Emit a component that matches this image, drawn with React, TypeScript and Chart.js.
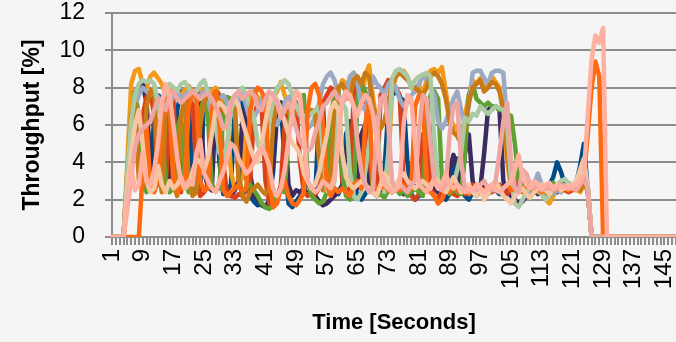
import { useEffect, useRef } from "react";
import { Chart, registerables } from "chart.js";

Chart.register(...registerables);

// Categories: time in seconds, 1..148
const TIME: string[] = Array.from({ length: 148 }, (_, i) => String(i + 1));
const TICK_LABELS = ["1", "9", "17", "25", "33", "41", "49", "57", "65", "73", "81", "89", "97", "105", "113", "121", "129", "137", "145"];
const Y_MIN = 0;
const Y_MAX = 12;
const Y_STEP = 2;

const darkBlue = [
  0, 0, 0, 0, 3.2, 5.5, 7.2, 6.0, 3.0, 2.6,
  2.8, 6.5, 7.6, 7.4, 3.0, 2.5, 2.7, 6.8, 7.8, 7.6,
  7.2, 3.0, 2.4, 2.6, 7.5, 7.8, 7.4, 7.6, 4.0, 2.3,
  2.5, 2.8, 6.8, 7.7, 7.4, 3.2, 2.2, 1.9, 1.7, 1.8,
  1.6, 2.0, 3.5, 6.5, 7.2, 4.0, 1.8, 1.6, 1.9, 2.2,
  2.6, 3.0, 2.5, 2.3, 6.8, 7.0, 3.0, 2.4, 2.6, 2.3,
  2.8, 5.5, 6.2, 3.0, 2.2, 2.0, 2.3, 2.6, 2.4, 2.2,
  2.5, 3.5, 6.8, 7.6, 7.8, 7.5, 7.3, 4.0, 2.3, 2.0,
  2.2, 2.3, 3.5, 6.0, 4.2, 2.4, 2.1, 2.0, 2.3, 3.8,
  4.2, 2.6, 2.2, 2.0, 2.4, 2.2, 2.5, 2.8, 2.3, 2.6,
  2.5, 2.3, 2.8, 2.6, 2.4, 2.2, 2.5, 2.7, 2.6, 2.4,
  2.5, 2.7, 2.6, 2.5, 2.8, 3.2, 4.0, 3.5, 2.8, 2.7,
  2.6, 2.9, 3.8, 5.0, 2.5, 0, 0, 0, 0, 0,
  0, 0, 0, 0, 0, 0, 0, 0, 0, 0,
  0, 0, 0, 0, 0, 0, 0, 0,
];

const orange = [
  0, 0, 0, 0, 4.0, 8.2, 8.9, 9.0, 8.2, 8.0,
  8.6, 8.8, 8.5, 8.2, 7.6, 7.5, 8.0, 7.7, 7.6, 7.9,
  8.1, 7.8, 7.6, 8.0, 7.7, 7.5, 7.8, 8.0, 7.6, 7.2,
  6.5, 3.5, 2.6, 2.8, 3.2, 6.2, 7.6, 7.8, 7.5, 7.2,
  7.0, 6.8, 7.4, 7.8, 8.3, 7.6, 7.0, 6.8, 6.7, 6.7,
  6.7, 6.7, 6.7, 6.8, 6.7, 3.5, 2.4, 2.6, 5.5, 7.8,
  8.4, 8.2, 7.6, 8.8, 8.5, 7.2, 8.6, 9.2, 7.5, 6.0,
  3.0, 2.5, 4.0, 7.8, 8.6, 8.8, 8.9, 8.6, 8.0, 7.8,
  8.2, 7.6, 8.4, 8.9, 9.0, 8.8, 9.1, 7.8, 6.4, 6.0,
  5.8, 5.2, 6.5, 7.6, 8.4, 8.2, 8.5, 7.9, 8.2, 8.6,
  8.3, 8.0, 6.5, 4.0, 2.6, 2.4, 2.5, 2.8, 2.6, 2.5,
  2.4, 2.6, 2.3, 2.0, 1.8, 2.2, 2.5, 2.4, 2.6, 2.7,
  2.5, 2.6, 2.4, 2.8, 2.5, 0, 0, 0, 0, 0,
  0, 0, 0, 0, 0, 0, 0, 0, 0, 0,
  0, 0, 0, 0, 0, 0, 0, 0,
];

const purple = [
  0, 0, 0, 0, 2.5, 5.0, 6.8, 8.0, 8.2, 7.2,
  4.0, 2.8, 3.2, 6.5, 7.4, 3.0, 2.6, 2.5, 2.9, 3.2,
  6.8, 7.6, 7.8, 7.4, 3.5, 2.7, 2.5, 6.8, 7.5, 3.2,
  2.4, 2.2, 2.5, 3.0, 6.4, 7.0, 3.4, 2.2, 2.0, 1.7,
  1.6, 1.9, 4.0, 6.8, 7.2, 6.5, 2.8, 2.2, 2.5, 2.4,
  2.6, 2.3, 2.4, 2.2, 1.9, 1.7, 1.8, 2.0, 2.2, 2.5,
  2.7, 4.8, 5.2, 3.0, 2.6, 5.5, 6.0, 3.0, 2.4, 2.3,
  2.5, 2.8, 2.6, 2.4, 2.6, 2.8, 2.3, 2.5, 2.8, 2.7,
  2.6, 3.0, 5.0, 4.6, 2.6, 2.4, 2.5, 2.3, 3.6, 4.4,
  3.8, 2.6, 4.5, 5.5, 3.0, 2.4, 2.6, 4.5, 6.8, 7.0,
  7.0, 6.8, 3.0, 2.5, 2.2, 2.0, 1.8, 1.9, 2.2, 2.4,
  2.5, 2.3, 2.6, 2.4, 2.5, 2.6, 2.4, 2.5, 2.7, 2.6,
  2.6, 2.8, 2.7, 3.0, 2.6, 0, 0, 0, 0, 0,
  0, 0, 0, 0, 0, 0, 0, 0, 0, 0,
  0, 0, 0, 0, 0, 0, 0, 0,
];

const red = [
  0, 0, 0, 0, 2.5, 4.5, 6.0, 5.2, 6.5, 7.5,
  7.8, 6.5, 3.0, 2.6, 2.8, 6.2, 7.4, 2.8, 2.4, 5.5,
  7.2, 7.6, 3.2, 2.2, 2.4, 2.8, 7.0, 7.8, 7.6, 4.0,
  2.3, 2.2, 2.1, 2.3, 2.2, 2.5, 3.0, 6.5, 7.2, 7.0,
  3.0, 1.8, 1.6, 2.0, 2.8, 6.0, 7.4, 7.6, 7.2, 4.0,
  2.4, 2.2, 2.5, 2.3, 2.6, 7.2, 7.6, 8.0, 7.8, 7.4,
  3.0, 2.4, 2.6, 7.6, 8.2, 8.0, 7.8, 4.5, 2.5, 2.2,
  7.6, 8.0, 8.4, 8.2, 8.0, 7.6, 3.0, 2.4, 2.2, 2.0,
  2.3, 5.5, 5.0, 2.6, 2.2, 2.0, 2.5, 2.8, 2.4, 2.3,
  2.2, 2.5, 2.3, 2.6, 2.8, 2.4, 2.6, 2.5, 2.7, 2.4,
  2.6, 2.8, 2.5, 2.3, 2.6, 2.5, 3.5, 2.8, 2.4, 2.5,
  2.6, 2.5, 2.4, 2.6, 2.5, 2.7, 2.6, 2.8, 2.5, 2.4,
  2.5, 2.7, 2.6, 2.9, 2.5, 0, 0, 0, 0, 0,
  0, 0, 0, 0, 0, 0, 0, 0, 0, 0,
  0, 0, 0, 0, 0, 0, 0, 0,
];

const green = [
  0, 0, 0, 0, 3.0, 6.0, 7.8, 6.5, 2.8, 2.4,
  2.6, 2.5, 5.5, 6.2, 2.8, 2.4, 2.6, 5.8, 6.5, 3.0,
  2.4, 2.6, 3.0, 6.8, 7.4, 6.5, 2.8, 2.5, 2.6, 6.8,
  7.5, 7.4, 7.0, 3.2, 2.4, 2.6, 2.8, 2.5, 2.2, 1.8,
  1.6, 1.5, 1.7, 2.2, 2.5, 2.4, 5.5, 7.4, 7.8, 7.5,
  7.6, 3.0, 2.2, 2.0, 1.8, 1.9, 2.4, 6.5, 7.6, 7.8,
  3.5, 2.2, 2.0, 2.4, 7.5, 8.2, 7.8, 7.0, 2.5, 2.2,
  2.3, 2.1, 2.5, 2.4, 2.6, 2.3, 2.5, 2.2, 2.4, 2.6,
  2.4, 2.2, 6.0, 7.6, 7.8, 7.4, 3.0, 2.5, 2.3, 2.6,
  2.4, 2.3, 4.5, 7.6, 8.2, 7.4, 7.2, 7.0, 7.2, 7.0,
  7.0, 6.8, 6.9, 6.6, 6.5, 5.0, 3.0, 2.6, 2.5, 2.7,
  2.6, 2.4, 2.8, 2.6, 2.5, 2.9, 2.7, 2.6, 2.8, 2.6,
  2.7, 2.6, 2.8, 3.0, 2.6, 0, 0, 0, 0, 0,
  0, 0, 0, 0, 0, 0, 0, 0, 0, 0,
  0, 0, 0, 0, 0, 0, 0, 0,
];

const greyBlue = [
  0, 0, 0, 0, 3.0, 5.5, 7.0, 7.6, 8.0, 7.8,
  7.6, 7.8, 7.5, 7.2, 6.8, 7.0, 7.6, 7.8, 7.4, 7.6,
  7.8, 7.5, 7.2, 7.6, 7.8, 7.4, 6.5, 6.8, 7.4, 7.6,
  7.2, 6.5, 6.8, 7.4, 7.8, 7.0, 6.2, 6.4, 6.8, 7.4,
  7.6, 7.2, 6.4, 6.0, 6.5, 7.2, 7.5, 7.0, 6.8, 6.5,
  6.2, 5.8, 6.0, 6.5, 7.2, 8.2, 8.6, 8.8, 8.4, 7.6,
  7.2, 7.8, 8.6, 8.8, 8.2, 7.0, 6.8, 7.6, 8.6, 8.2,
  8.0, 7.6, 8.2, 8.4, 8.0, 7.4, 7.0, 7.2, 7.6, 7.8,
  8.2, 8.6, 8.4, 8.0, 7.6, 6.2, 5.8, 6.2, 6.8, 7.4,
  7.8, 6.8, 6.0, 7.0, 8.8, 8.9, 8.9, 8.5, 8.2, 8.8,
  8.9, 8.9, 8.8, 6.0, 3.0, 2.6, 2.4, 2.6, 2.2, 2.5,
  2.8, 3.4, 2.8, 2.4, 2.6, 2.3, 2.5, 2.4, 2.8, 2.6,
  2.6, 2.7, 2.8, 3.0, 2.6, 0, 0, 0, 0, 0,
  0, 0, 0, 0, 0, 0, 0, 0, 0, 0,
  0, 0, 0, 0, 0, 0, 0, 0,
];

const darkOrange = [
  0, 0, 0, 0, 3.5, 6.5, 7.2, 3.0, 2.6, 7.0,
  7.8, 8.0, 3.5, 2.4, 6.6, 7.2, 2.8, 2.2, 6.5, 7.4,
  3.0, 2.2, 2.4, 6.0, 7.2, 7.6, 7.4, 7.8, 7.2, 6.8,
  6.6, 6.8, 7.0, 3.0, 2.2, 1.9, 2.4, 2.6, 2.8, 2.5,
  2.3, 2.6, 6.0, 7.2, 6.8, 6.7, 6.7, 6.8, 6.7, 6.7,
  6.6, 6.7, 6.8, 6.6, 4.0, 2.5, 2.6, 3.5, 6.5, 8.0,
  8.2, 7.8, 7.4, 8.4, 8.6, 8.2, 8.8, 8.6, 7.0, 6.4,
  5.8, 6.2, 7.2, 8.2, 8.6, 8.8, 8.6, 8.4, 8.2, 8.0,
  7.8, 7.6, 8.0, 8.6, 8.8, 8.6, 8.2, 7.4, 6.2, 5.6,
  5.4, 5.0, 5.8, 7.2, 8.0, 8.2, 8.4, 7.8, 8.0, 8.3,
  8.2, 7.8, 6.8, 4.5, 2.8, 2.5, 2.6, 2.4, 2.5, 2.6,
  2.5, 2.4, 2.6, 2.3, 2.2, 2.5, 2.6, 2.5, 2.7, 2.5,
  2.6, 2.7, 2.5, 2.9, 2.5, 0, 0, 0, 0, 0,
  0, 0, 0, 0, 0, 0, 0, 0, 0, 0,
  0, 0, 0, 0, 0, 0, 0, 0,
];

const lightGreen = [
  0, 0, 0, 0, 3.5, 6.2, 7.6, 8.2, 8.4, 8.3,
  8.4, 8.2, 7.0, 6.5, 7.6, 8.2, 8.0, 7.8, 8.2, 8.3,
  8.0, 7.6, 7.8, 8.2, 8.4, 7.8, 7.2, 6.0, 4.5, 4.2,
  5.0, 6.8, 7.4, 7.8, 8.0, 7.6, 7.0, 6.4, 5.0, 4.5,
  4.8, 6.2, 7.4, 8.0, 8.2, 8.4, 8.2, 7.6, 7.0, 6.6,
  6.5, 6.4, 6.6, 6.8, 7.0, 4.5, 2.5, 2.3, 3.0, 6.5,
  7.2, 6.8, 3.5, 2.2, 2.0, 2.4, 3.5, 5.0, 6.2, 6.4,
  3.5, 2.4, 4.5, 8.5, 8.9, 9.0, 8.8, 8.6, 8.0, 8.4,
  8.6, 8.7, 8.8, 8.6, 5.2, 3.0, 2.6, 2.4, 2.6, 2.8,
  3.6, 4.5, 6.4, 6.2, 6.6, 6.5, 7.0, 6.8, 6.6, 6.8,
  7.0, 6.9, 6.8, 6.0, 3.0, 1.8, 1.6, 2.0, 2.4, 2.6,
  2.8, 2.5, 2.3, 2.0, 2.2, 2.6, 2.8, 3.0, 3.1, 2.9,
  2.8, 3.0, 2.9, 3.2, 2.8, 0, 0, 0, 0, 0,
  0, 0, 0, 0, 0, 0, 0, 0, 0, 0,
  0, 0, 0, 0, 0, 0, 0, 0,
];

const orangeRed = [
  0, 0, 0, 0, 0, 0, 0, 0, 3.5, 6.0,
  2.8, 2.4, 3.0, 6.4, 7.2, 7.6, 3.2, 2.4, 2.6, 3.0,
  7.0, 7.8, 7.5, 3.0, 2.5, 2.6, 6.8, 7.8, 6.0, 2.5,
  2.2, 2.4, 2.6, 2.8, 2.5, 2.6, 6.8, 7.6, 8.0, 7.8,
  7.2, 3.0, 1.6, 1.8, 2.6, 3.0, 2.2, 1.8, 1.7, 2.0,
  2.4, 6.8, 8.0, 8.2, 7.6, 6.2, 2.8, 2.2, 2.6, 2.4,
  2.6, 2.4, 2.2, 2.8, 3.0, 2.6, 6.0, 7.2, 3.0, 2.4,
  2.6, 2.8, 2.5, 2.4, 2.6, 2.5, 2.8, 2.4, 2.6, 7.0,
  7.6, 7.4, 3.0, 2.4, 2.2, 1.8, 2.0, 2.6, 2.4, 2.8,
  2.5, 2.4, 2.6, 2.3, 2.5, 2.8, 2.6, 2.4, 2.7, 2.5,
  2.6, 2.4, 2.6, 2.8, 2.5, 2.6, 2.4, 2.5, 2.8, 2.6,
  2.5, 2.6, 2.4, 2.7, 2.6, 2.5, 2.6, 2.8, 2.6, 2.5,
  2.6, 2.5, 2.8, 3.2, 5.5, 8.0, 9.4, 8.6, 0, 0,
  0, 0, 0, 0, 0, 0, 0, 0, 0, 0,
  0, 0, 0, 0, 0, 0, 0, 0,
];

const peach = [
  0, 0, 0, 0, 2.5, 4.5, 6.0, 6.8, 5.0, 3.0,
  2.4, 2.6, 3.8, 2.8, 2.4, 3.0, 2.6, 2.8, 3.2, 2.6,
  2.8, 3.5, 4.2, 4.0, 3.6, 4.2, 5.5, 6.8, 7.2, 7.0,
  6.6, 7.2, 7.4, 7.0, 6.2, 5.5, 4.8, 4.2, 4.0, 5.0,
  6.2, 7.2, 7.6, 7.4, 6.8, 6.2, 5.5, 5.0, 4.8, 4.4,
  3.4, 3.0, 2.6, 2.8, 3.5, 4.5, 5.5, 6.8, 7.2, 6.8,
  4.5, 3.2, 2.8, 2.6, 2.8, 3.0, 2.8, 2.6, 2.4, 2.2,
  2.8, 3.4, 3.0, 2.6, 2.8, 3.2, 3.4, 3.0, 2.8, 2.6,
  2.8, 3.0, 2.8, 2.6, 3.2, 3.0, 2.6, 2.4, 2.8, 3.2,
  2.8, 2.4, 2.6, 2.8, 2.4, 2.2, 2.6, 2.0, 2.3, 2.8,
  3.0, 2.6, 2.2, 2.0, 1.8, 2.2, 2.4, 2.6, 2.3, 2.1,
  2.4, 2.6, 2.8, 2.5, 2.3, 2.6, 2.8, 2.5, 2.7, 2.6,
  2.8, 3.0, 3.6, 4.2, 2.6, 0, 0, 0, 0, 0,
  0, 0, 0, 0, 0, 0, 0, 0, 0, 0,
  0, 0, 0, 0, 0, 0, 0, 0,
];

const rose = [
  0, 0, 0, 0, 1.5, 3.2, 4.8, 5.5, 5.8, 6.0,
  6.2, 6.8, 7.4, 7.2, 6.8, 7.6, 7.8, 7.4, 7.2, 7.4,
  7.6, 7.8, 7.6, 7.4, 7.6, 7.7, 7.4, 7.0, 6.5, 5.8,
  6.0, 7.2, 7.6, 7.8, 7.4, 7.6, 7.8, 7.6, 7.0, 6.8,
  7.4, 7.8, 7.6, 7.2, 6.4, 6.8, 7.2, 6.6, 5.8, 5.2,
  4.8, 4.6, 4.8, 5.6, 6.2, 7.0, 7.2, 7.5, 7.8, 7.4,
  7.2, 7.4, 7.6, 7.0, 5.0, 3.5, 2.8, 2.4, 2.6, 5.5,
  7.4, 7.6, 6.0, 3.0, 2.5, 2.8, 2.6, 2.4, 2.8, 3.0,
  5.6, 7.6, 7.4, 5.0, 3.0, 2.6, 2.5, 2.8, 5.5, 7.0,
  7.2, 4.0, 2.6, 2.4, 2.6, 2.5, 2.8, 3.0, 2.6, 2.5,
  3.0, 4.5, 6.2, 7.2, 4.0, 2.6, 2.4, 3.6, 3.4, 2.8,
  2.6, 2.8, 2.5, 2.6, 2.7, 2.5, 2.6, 2.8, 2.6, 2.7,
  2.6, 2.5, 2.8, 3.2, 2.6, 0, 0, 0, 0, 0,
  0, 0, 0, 0, 0, 0, 0, 0, 0, 0,
  0, 0, 0, 0, 0, 0, 0, 0,
];

const salmon = [
  0, 0, 0, 0, 2.0, 3.8, 2.5, 2.8, 4.5, 3.0,
  2.8, 3.6, 5.0, 7.2, 8.2, 7.6, 6.0, 4.2, 3.0, 2.6,
  3.0, 2.8, 4.5, 5.2, 3.4, 3.0, 2.6, 2.4, 3.0, 3.5,
  4.2, 5.0, 4.8, 4.2, 3.8, 3.4, 3.6, 4.0, 4.5, 4.8,
  4.4, 3.8, 2.6, 2.2, 2.6, 3.6, 5.2, 6.8, 7.8, 7.6,
  5.5, 3.0, 2.6, 2.4, 2.6, 3.0, 2.8, 2.6, 3.2, 5.0,
  7.4, 7.8, 7.6, 7.0, 6.5, 7.2, 7.6, 7.4, 6.6, 5.2,
  3.6, 2.8, 2.6, 2.4, 2.6, 2.8, 6.0, 7.6, 7.4, 5.0,
  2.8, 2.6, 2.4, 2.8, 3.0, 2.6, 2.8, 3.4, 2.8, 2.6,
  2.8, 2.6, 2.4, 2.6, 2.5, 2.8, 2.6, 2.4, 2.6, 2.8,
  2.5, 2.4, 2.6, 2.8, 3.0, 3.6, 4.4, 3.2, 2.8, 2.6,
  3.0, 2.8, 2.6, 2.8, 2.9, 2.6, 2.8, 2.7, 2.6, 2.8,
  2.7, 2.8, 3.0, 3.4, 6.5, 9.5, 10.8, 10.4, 11.2, 0,
  0, 0, 0, 0, 0, 0, 0, 0, 0, 0,
  0, 0, 0, 0, 0, 0, 0, 0,
];

// Top-most first (Chart.js draws dataset 0 on top)
const SERIES: { name: string; data: number[]; color: string }[] = [
  { name: "Run 12", data: salmon, color: "#FFB0A0" },
  { name: "Run 11", data: rose, color: "#EEA6A2" },
  { name: "Run 10", data: peach, color: "#F6C6A2" },
  { name: "Run 9", data: orangeRed, color: "#FF6A10" },
  { name: "Run 8", data: lightGreen, color: "#A9CAA3" },
  { name: "Run 7", data: darkOrange, color: "#C97A14" },
  { name: "Run 6", data: greyBlue, color: "#9BA9C2" },
  { name: "Run 5", data: green, color: "#5FA231" },
  { name: "Run 4", data: red, color: "#D8411C" },
  { name: "Run 3", data: purple, color: "#3C2B5E" },
  { name: "Run 2", data: orange, color: "#F39A1A" },
  { name: "Run 1", data: darkBlue, color: "#004C88" },
];

const FONT = "'Liberation Sans', Arial, Helvetica, sans-serif";
const GRID = "#8C8C8C";

export default function App() {
  const ref = useRef<HTMLCanvasElement | null>(null);

  useEffect(() => {
    document.body.style.margin = "0";
    document.body.style.background = "#F5F5F5";
    if (!ref.current) return;
    const chart = new Chart(ref.current, {
      type: "line",
      data: {
        labels: TIME,
        datasets: SERIES.map((s) => ({
          label: s.name,
          data: s.data,
          borderColor: s.color,
          backgroundColor: s.color,
          borderWidth: 4.5,
          pointRadius: 0,
          tension: 0,
          fill: false,
          borderJoinStyle: "round" as const,
          borderCapStyle: "round" as const,
        })),
      },
      options: {
        animation: false,
        responsive: false,
        events: [],
        layout: { padding: { top: 0, right: 0, bottom: 0, left: 0 } },
        plugins: { legend: { display: false }, tooltip: { enabled: false } },
        scales: {
          x: {
            type: "category",
            offset: false,
            grid: {
              display: true,
              drawOnChartArea: false,
              drawTicks: true,
              tickLength: 8,
              color: GRID,
              lineWidth: 2,
            },
            border: { display: true, color: GRID, width: 2 },
            ticks: {
              autoSkip: false,
              minRotation: 90,
              maxRotation: 90,
              padding: 4,
              color: "#000",
              font: { family: FONT, size: 24 },
              callback: (_v: any, i: number) => (TICK_LABELS.includes(TIME[i]) ? TIME[i] : ""),
            },
            title: {
              display: true,
              text: "Time [Seconds]",
              color: "#000",
              font: { family: FONT, size: 22, weight: "bold" },
              padding: { top: 0, bottom: 6 },
            },
            afterFit: (s: any) => {
              s.height = 105;
              s.paddingLeft = 0;
              s.paddingRight = 0;
            },
          },
          y: {
            min: Y_MIN,
            max: Y_MAX,
            grid: { color: GRID, lineWidth: 2, tickLength: 7 },
            border: { display: true, color: GRID, width: 2 },
            ticks: {
              stepSize: Y_STEP,
              padding: 20,
              color: "#000",
              font: { family: FONT, size: 23 },
            },
            title: {
              display: true,
              text: "Throughput [%]",
              color: "#000",
              font: { family: FONT, size: 23, weight: "bold" },
              padding: { top: 19, bottom: 0 },
            },
            afterFit: (s: any) => {
              s.width = 112;
              s.paddingTop = 13;
              s.paddingBottom = 0;
            },
          },
        },
      },
    });
    return () => chart.destroy();
  }, []);

  return (
    <div style={{ position: "absolute", left: 0, top: 0, width: 676, height: 342, background: "#F5F5F5" }}>
      <canvas ref={ref} width={676} height={342} style={{ display: "block" }} />
    </div>
  );
}
